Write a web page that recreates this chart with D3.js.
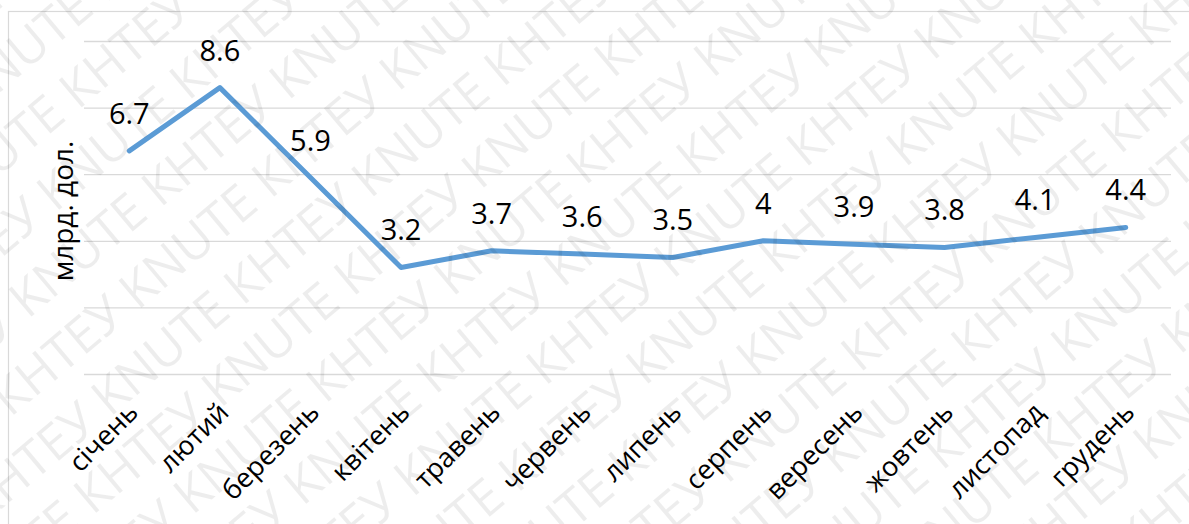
<!DOCTYPE html>
<html>
<head>
<meta charset="utf-8">
<script src="https://cdn.jsdelivr.net/npm/d3@7"></script>
<style>
  body { margin: 0; background: #fff; }
  svg { display: block; }
</style>
</head>
<body>
<svg></svg>
<script>
const width = 1189;
const height = 524;

// DATA
const months = ["січень", "лютий", "березень", "квітень", "травень", "червень",
                "липень", "серпень", "вересень", "жовтень", "листопад", "грудень"];
const exportValues = [6.7, 8.6, 5.9, 3.2, 3.7, 3.6, 3.5, 4, 3.9, 3.8, 4.1, 4.4];
const yTicks = [0, 2, 4, 6, 8, 10];
const yTitle = "млрд. дол.";
const watermarkText = "KNUTE КНТЕУ ";

const plot = { left: 84, right: 1171, top: 41, bottom: 374 };
const font = "'Open Sans', 'Noto Sans', sans-serif";

const svg = d3.select("svg")
  .attr("width", width)
  .attr("height", height);

// CREATE SCALES
const xScale = d3.scalePoint()
  .domain(months)
  .range([plot.left, plot.right])
  .padding(0.5);

const yScale = d3.scaleLinear()
  .domain([0, 10])
  .range([plot.bottom, plot.top]);

// chart area border
svg.append("rect")
  .attr("x", 8.5)
  .attr("y", 11.5)
  .attr("width", width + 20)
  .attr("height", height + 20)
  .attr("fill", "none")
  .attr("stroke", "#d9d9d9")
  .attr("stroke-width", 1.2);

// GRIDLINES (axis without labels)
const yAxis = d3.axisLeft(yScale)
  .tickValues(yTicks)
  .tickSize(-(plot.right - plot.left))
  .tickFormat("");

svg.append("g")
  .attr("transform", `translate(${plot.left}, 0)`)
  .call(yAxis)
  .call(g => g.select(".domain").remove())
  .call(g => g.selectAll(".tick line")
    .attr("stroke", "#d9d9d9")
    .attr("stroke-width", 1.3));

// X AXIS LABELS
const xAxis = d3.axisBottom(xScale).tickSize(0).tickPadding(0);

svg.append("g")
  .attr("transform", `translate(0, ${plot.bottom})`)
  .call(xAxis)
  .call(g => g.select(".domain").remove())
  .selectAll("text")
    .attr("font-family", font)
    .attr("font-size", 27)
    .attr("fill", "#000")
    .attr("text-anchor", "end")
    .attr("dy", 0)
    .attr("transform", "translate(10, 40) rotate(-45)");

// LINE
const line = d3.line()
  .x((d, i) => xScale(months[i]))
  .y(d => yScale(d));

svg.append("path")
  .datum(exportValues)
  .attr("d", line)
  .attr("fill", "none")
  .attr("stroke", "#5b9bd5")
  .attr("stroke-width", 5)
  .attr("stroke-linejoin", "round")
  .attr("stroke-linecap", "round");

// DATA LABELS
svg.append("g")
  .selectAll("text")
  .data(exportValues)
  .enter()
  .append("text")
    .attr("x", (d, i) => xScale(months[i]))
    .attr("y", d => yScale(d) - 27)
    .attr("text-anchor", "middle")
    .attr("font-family", font)
    .attr("font-size", 29)
    .attr("fill", "#000")
    .text(d => d);

// AXIS TITLE
svg.append("text")
  .attr("transform", "rotate(-90)")
  .attr("x", -211)
  .attr("y", 73)
  .attr("text-anchor", "middle")
  .attr("font-family", font)
  .attr("font-size", 28)
  .attr("fill", "#000")
  .text(yTitle);

// WATERMARK
const wm = svg.append("g")
  .attr("pointer-events", "none")
  .attr("transform", `translate(${width / 2}, ${height / 2}) rotate(-40)`);

d3.range(-14, 15).forEach(r => {
  wm.append("text")
    .attr("x", -1400 + (r % 2) * 90)
    .attr("y", r * 64)
    .attr("font-family", font)
    .attr("font-size", 50)
    .attr("fill", "#000")
    .attr("fill-opacity", 0.07)
    .text(watermarkText.repeat(16));
});
</script>
</body>
</html>
